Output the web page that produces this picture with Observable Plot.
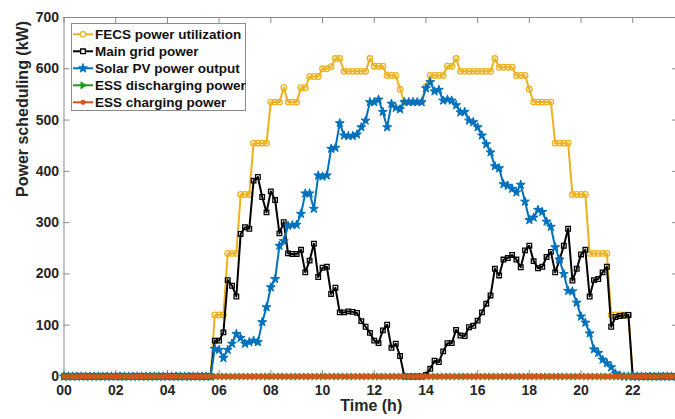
<!DOCTYPE html>
<html>
<head>
<meta charset="utf-8">
<script src="https://cdn.jsdelivr.net/npm/d3@7"></script>
<script src="https://cdn.jsdelivr.net/npm/@observablehq/plot@0.6"></script>
<style>
  html, body { margin: 0; padding: 0; background: #fff; overflow: hidden; }
  #wrap { position: relative; width: 675px; height: 419px; overflow: hidden; }
</style>
</head>
<body>
<div id="wrap"></div>
<script>
// Power dispatch over one day, sampled every 10 minutes (144 intervals).
const STEP_HOURS = 1 / 6;

const fecsPower = [
  0,0,0,0,0,0,0,0,0,0, 0,0,0,0,0,0,0,0,0,0, 0,0,0,0,0,0,0,0,0,0, 0,0,0,0,0,
  120,120,120, 240,240,240, 355,355,355, 455,455,455,455,
  535,535,535, 563, 535,535,535, 563,563, 585,585,585,
  600,600,604, 620,620, 595,595,595,595,595,595, 620,
  605,605,605, 587,587,587, 560, 535,535,535,535,535,
  565, 587,587,587,587, 605,605, 620,
  595,595,595,595,595,595,595,595, 620, 603,603,603,603,
  587,587,587, 560, 535,535,535,535,535,
  455,455,455,455, 355,355,355,355, 240,240,240,240,240, 120,120,120,120,120,
  0,0,0,0,0,0,0,0,0,0,0,0
];

const gridPower = [
  0,0,0,0,0,0,0,0,0,0, 0,0,0,0,0,0,0,0,0,0, 0,0,0,0,0,0,0,0,0,0, 0,0,0,0,0,
  70,70,86, 188,177,156, 278,291,288, 382,389,350,320,
  361,344,279, 301, 240,239,239, 247,203, 226,259,194,
  212,214,161, 173,125, 125,127,126,124,108,97, 85,
  70,65,90, 101,56,64, 40, 0,0,0,0,0,
  3, 15,31,28,49, 65,65, 91,
  80,79,96,99,109,125,142,158, 210, 197,228,231,237,
  228,213,246, 255, 225,211,214,233,243,
  203,227,255,288, 187,210,238,247, 156,188,190,203,214, 97,116,118,119,120,
  0,0,0,0,0,0,0,0,0,0,0,0
];

const solarPower = [
  0,0,0,0,0,0,0,0,0,0, 0,0,0,0,0,0,0,0,0,0, 0,0,0,0,0,0,0,0,0,0, 0,0,0,0,0,
  54,52,36, 52,64,83, 75,64,67, 70,67,106,135,
  174,190,255, 264, 294,295,296, 317,357, 357,327,392,
  390,392,444, 446,494, 470,469,469,472,486,499, 535,
  535,540,516, 486,532,524, 521, 535,535,535,535,535,
  562, 574,556,559,538, 540,538, 529,
  515,516,499,496,486,470,453,437, 410, 406,375,372,366,
  359,374,341, 305, 310,325,321,302,292,
  252,228,200,167, 166,144,117,105, 84,53,46,33,26, 18,6,2,0,0,
  0,0,0,0,0,0,0,0,0,0,0,0
];

const essDischarge = [
  0,0,0,0,0,0,0,0,0,0,0,0, 0,0,0,0,0,0,0,0,0,0,0,0,
  0,0,0,0,0,0,0,0,0,0,0,0, 0,0,0,0,0,0,0,0,0,0,0,0,
  0,0,0,0,0,0,0,0,0,0,0,0, 0,0,0,0,0,0,0,0,0,0,0,0,
  0,0,0,0,0,0,0,0,0,0,0,0, 0,0,0,0,0,0,0,0,0,0,0,0,
  0,0,0,0,0,0,0,0,0,0,0,0, 0,0,0,0,0,0,0,0,0,0,0,0,
  0,0,0,0,0,0,0,0,0,0,0,0, 0,0,0,0,0,0,0,0,0,0,0,0
];

const essCharge = [
  0,0,0,0,0,0,0,0,0,0,0,0, 0,0,0,0,0,0,0,0,0,0,0,0,
  0,0,0,0,0,0,0,0,0,0,0,0, 0,0,0,0,0,0,0,0,0,0,0,0,
  0,0,0,0,0,0,0,0,0,0,0,0, 0,0,0,0,0,0,0,0,0,0,0,0,
  0,0,0,0,0,0,0,0,0,0,0,0, 0,0,0,0,0,0,0,0,0,0,0,0,
  0,0,0,0,0,0,0,0,0,0,0,0, 0,0,0,0,0,0,0,0,0,0,0,0,
  0,0,0,0,0,0,0,0,0,0,0,0, 0,0,0,0,0,0,0,0,0,0,0,0
];

const seriesNames = [
  "FECS power utilization",
  "Main grid power",
  "Solar PV power output",
  "ESS discharging power",
  "ESS charging power"
];

const xTicks = [0, 2, 4, 6, 8, 10, 12, 14, 16, 18, 20, 22];
const yTicks = [0, 100, 200, 300, 400, 500, 600, 700];
const xLabel = "Time (h)";
const yLabel = "Power scheduling (kW)";

// Right-pointing triangle marker (the ">" marker style)
const triangleRight = {
  draw(context, size) {
    const h = Math.sqrt(size / (Math.sqrt(3) / 4)) * 0.5;
    context.moveTo(h, 0);
    context.lineTo(-h * 0.6, -h);
    context.lineTo(-h * 0.6, h);
    context.closePath();
  }
};

const series = [
  {values: fecsPower,    color: "#EDB120", symbol: "circle",  d3sym: d3.symbolCircle, r: 2.8, fill: "none",    sw: 1.3, lw: 2},
  {values: gridPower,    color: "#000000", symbol: "square",  d3sym: d3.symbolSquare, r: 2.6, fill: "none",    sw: 1.3, lw: 2},
  {values: solarPower,   color: "#0072BD", symbol: "star",    d3sym: d3.symbolStar,   r: 2.8, fill: "#0072BD", sw: 1.0, lw: 2},
  {values: essDischarge, color: "#1E9A1E", symbol: triangleRight, d3sym: triangleRight, r: 2.7, fill: "#1E9A1E", sw: 0.6, lw: 2},
  {values: essCharge,    color: "#D95319", symbol: "circle",  d3sym: d3.symbolCircle, r: 2.2, fill: "#D95319", sw: 0.8, lw: 3.5}
];

const times = fecsPower.map((_, i) => i * STEP_HOURS);
const toRows = vals => vals.map((v, i) => ({t: times[i], v}));

const W = 675, H = 419;
const mL = 63.5, mR = -3, mT = 17, mB = 43;
const innerW = W - mL - mR, innerH = H - mT - mB;
const axisColor = "#8a8a8a";
const font = "'Liberation Sans', Arial, Helvetica, sans-serif";

const marks = [
  Plot.frame({stroke: axisColor, strokeWidth: 1}),
  // inward tick marks on all four sides
  Plot.tickX(xTicks, {x: d => d, insetTop: innerH - 6, stroke: axisColor}),
  Plot.tickX(xTicks, {x: d => d, insetBottom: innerH - 6, stroke: axisColor}),
  Plot.tickY(yTicks, {y: d => d, insetRight: innerW - 6, stroke: axisColor}),
  Plot.tickY(yTicks, {y: d => d, insetLeft: innerW - 6, stroke: axisColor})
];

for (const s of series) {
  const rows = toRows(s.values);
  marks.push(Plot.line(rows, {x: "t", y: "v", stroke: s.color, strokeWidth: s.lw}));
  marks.push(Plot.dot(rows, {
    x: "t", y: "v", symbol: s.symbol, r: s.r,
    stroke: s.color, fill: s.fill, strokeWidth: s.sw
  }));
}

marks.push(
  Plot.axisX({
    ticks: xTicks, tickSize: 0, tickPadding: 8.5,
    tickFormat: d => String(d).padStart(2, "0"),
    label: null, fontSize: 14, fontWeight: "bold", fill: "#262626"
  }),
  Plot.axisY({
    ticks: yTicks, tickSize: 0, tickPadding: 5,
    label: null, fontSize: 14, fontWeight: "bold", fill: "#262626"
  }),
  Plot.text([xLabel], {
    text: d => d, frameAnchor: "bottom", dy: 34,
    fontSize: 16, fontWeight: "bold", fill: "#262626"
  }),
  Plot.text([yLabel], {
    text: d => d, frameAnchor: "left", rotate: -90, dx: -41.5,
    fontSize: 16, fontWeight: "bold", fill: "#262626"
  })
);

const chart = Plot.plot({
  width: W, height: H,
  marginLeft: mL, marginRight: mR, marginTop: mT, marginBottom: mB,
  x: {domain: [0, 23.77]},
  y: {domain: [0, 700]},
  style: {fontFamily: font, fontSize: "14px", fontWeight: "bold", background: "#fff", overflow: "hidden"},
  marks
});

const wrap = document.getElementById("wrap");
wrap.appendChild(chart);

// Legend box in the upper-left corner of the axes
const legend = d3.create("svg")
  .attr("width", 176).attr("height", 89)
  .style("position", "absolute").style("left", "71px").style("top", "23px")
  .style("font-family", font);

legend.append("rect")
  .attr("x", 0.5).attr("y", 0.5).attr("width", 174).attr("height", 87)
  .attr("fill", "#fff").attr("stroke", axisColor);

series.forEach((s, i) => {
  const cy = 11.3 + i * 17;
  const g = legend.append("g");
  g.append("line").attr("x1", 2).attr("x2", 22).attr("y1", cy).attr("y2", cy)
    .attr("stroke", s.color).attr("stroke-width", 2);
  g.append("path")
    .attr("transform", `translate(12,${cy})`)
    .attr("d", d3.symbol(s.d3sym, Math.PI * s.r * s.r)())
    .attr("fill", s.fill === "none" ? "#fff" : s.fill)
    .attr("stroke", s.color).attr("stroke-width", s.sw);
  g.append("text").attr("x", 24).attr("y", cy).attr("dy", "0.35em")
    .attr("font-size", 13.5).attr("font-weight", "bold").attr("fill", "#111")
    .text(seriesNames[i]);
});

wrap.appendChild(legend.node());
</script>
</body>
</html>
